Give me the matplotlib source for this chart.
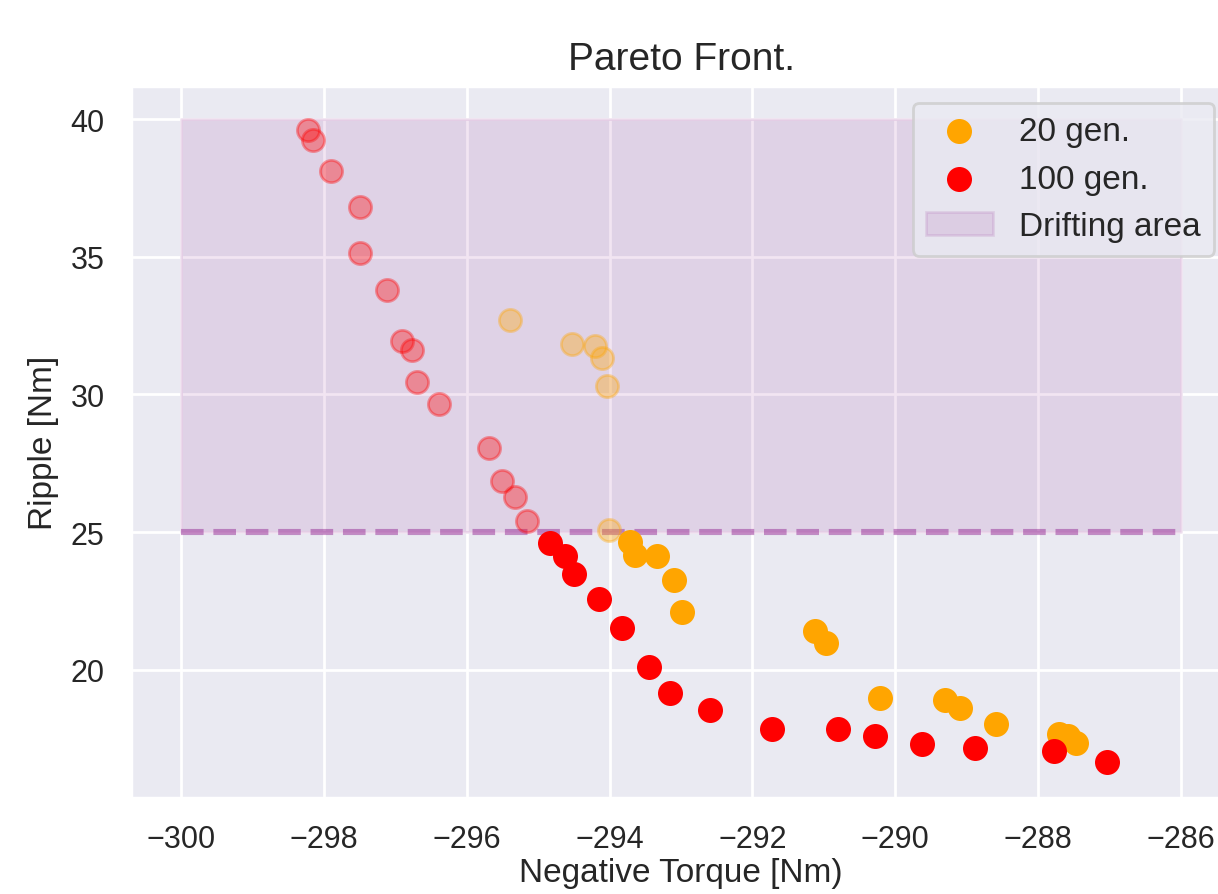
import numpy as np
import matplotlib
matplotlib.use("Agg")
import matplotlib.pyplot as plt
import seaborn as sns

# Pareto front after 20 generations
gen20_torque = [-295.40, -294.52, -294.20, -294.10, -294.04, -294.01,
                -293.72, -293.65, -293.34, -293.10, -292.99, -291.13,
                -290.97, -290.22, -289.31, -289.10, -288.59, -287.71,
                -287.58, -287.47]
gen20_ripple = [32.70, 31.83, 31.76, 31.33, 30.32, 25.07,
                24.64, 24.17, 24.14, 23.27, 22.09, 21.40,
                20.97, 18.99, 18.92, 18.63, 18.02, 17.66,
                17.59, 17.34]

# Pareto front after 100 generations
gen100_torque = [-298.22, -298.15, -297.90, -297.50, -297.50, -297.12,
                 -296.90, -296.77, -296.69, -296.39, -295.69, -295.50,
                 -295.33, -295.16, -294.84, -294.62, -294.50, -294.15,
                 -293.82, -293.45, -293.15, -292.60, -291.73, -290.80,
                 -290.28, -289.62, -288.88, -287.78, -287.03]
gen100_ripple = [39.60, 39.24, 38.13, 36.80, 35.14, 33.78,
                 31.94, 31.62, 30.47, 29.64, 28.06, 26.87,
                 26.29, 25.40, 24.60, 24.14, 23.49, 22.59,
                 21.51, 20.11, 19.17, 18.53, 17.84, 17.84,
                 17.59, 17.30, 17.16, 17.05, 16.65]

# drifting area bounds
drift_x = [-300, -286]
drift_low = 25
drift_high = 40

sns.set_theme(style="darkgrid")
plt.rcParams["font.family"] = ["Liberation Sans", "DejaVu Sans"]

fig = plt.figure(figsize=(6.09, 4.475), dpi=200)
ax = fig.add_axes([131 / 1218, 96 / 895, 1100 / 1218, 712 / 895])


def scatter_split(x, y, color, label):
    # points inside the drifting area are drawn faded
    x = np.array(x)
    y = np.array(y)
    inside = y > drift_low
    ax.scatter(x[~inside], y[~inside], s=64, color=color, label=label, zorder=3)
    ax.scatter(x[inside], y[inside], s=64, color=color, alpha=0.35, zorder=3)


scatter_split(gen20_torque, gen20_ripple, "orange", "20 gen.")
scatter_split(gen100_torque, gen100_ripple, "red", "100 gen.")

ax.fill_between(drift_x, drift_low, drift_high, color="purple", alpha=0.1,
                label="Drifting area", zorder=2)
ax.plot(drift_x, [drift_low, drift_low], "--", color="purple", alpha=0.4,
        lw=2.2, zorder=2)

ax.set_xticks(np.arange(-300, -285, 2))
ax.set_xlim(-300.7, -285.3)
ax.set_ylim(15.35, 41.2)
ax.tick_params(labelsize=11)

ax.set_title("Pareto Front.", fontsize=14)
ax.set_xlabel("Negative Torque [Nm)", fontsize=12, labelpad=1)
ax.set_ylabel("Ripple [Nm]", fontsize=12)
ax.legend(loc="upper right", fontsize=12)

fig.savefig("out.png")
